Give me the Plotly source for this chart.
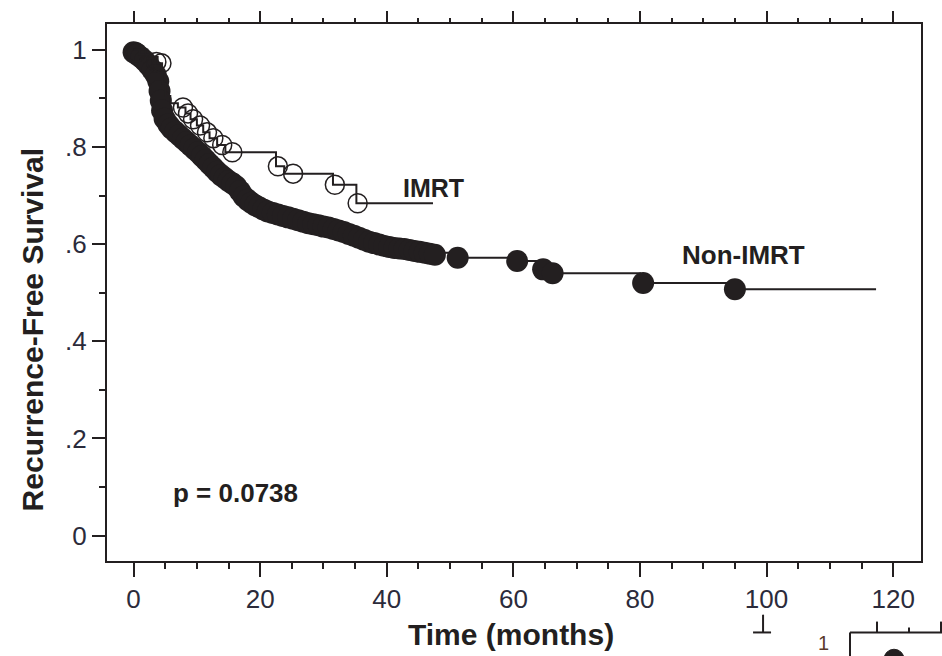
import plotly.graph_objects as go

# ---------------- data ----------------
# Non-IMRT censored marks (filled circles) – time (months), survival
non_cens_t = [0, 0.6, 1.2, 1.8, 2.4, 3.0, 3.5, 3.9, 4.1, 4.3, 4.5, 4.9, 5.5, 6.0, 6.6, 7.2,
              7.8, 8.4, 9.0, 9.6, 10.2, 10.8, 11.4, 12.0, 12.6, 13.2, 13.8, 14.4, 15.0,
              15.6, 16.2, 16.8, 17.4, 18.0, 18.6, 19.2, 19.8, 20.5, 21.2, 22.0, 22.8,
              23.6, 24.4, 25.2, 26.0, 26.8, 27.6, 28.4, 29.2, 30.0, 30.8, 31.6, 32.4,
              33.2, 34.0, 34.8, 35.6, 36.4, 37.2, 38.0, 38.8, 39.6, 40.4, 41.2, 42.0,
              42.8, 43.6, 44.4, 45.2, 46.0, 46.8, 47.6, 51.2, 60.6, 64.7, 66.2, 80.5, 95.0]
non_cens_s = [0.995, 0.99, 0.984, 0.977, 0.968, 0.958, 0.948, 0.935, 0.915, 0.895, 0.875,
              0.858, 0.846, 0.838, 0.831, 0.824, 0.817, 0.81, 0.803, 0.796, 0.789, 0.781,
              0.773, 0.765, 0.757, 0.749, 0.742, 0.736, 0.730, 0.725, 0.719, 0.709, 0.698,
              0.691, 0.685, 0.680, 0.676, 0.671, 0.667, 0.664, 0.661, 0.658, 0.655, 0.652,
              0.649, 0.646, 0.643, 0.641, 0.639, 0.636, 0.634, 0.631, 0.628, 0.625, 0.621,
              0.617, 0.613, 0.609, 0.605, 0.602, 0.599, 0.596, 0.594, 0.592, 0.591, 0.590,
              0.588, 0.586, 0.584, 0.582, 0.580, 0.578, 0.572, 0.565, 0.548, 0.540, 0.520,
              0.507]

# Non-IMRT Kaplan-Meier steps (time of step, survival after it)
non_t = [0, 1.0, 2.0, 3.0, 3.6, 4.0, 4.3, 4.6, 5.5, 7.0, 9.0, 11.0, 13.0, 15.0, 16.5,
         17.5, 19.0, 21.0, 23.0, 25.0, 28.0, 31.0, 34.0, 36.0, 38.0, 40.0, 43.0, 46.0,
         50.0, 60.0, 64.0, 65.5, 80.0, 95.0, 117.3]
non_s = [0.995, 0.986, 0.972, 0.955, 0.94, 0.92, 0.895, 0.868, 0.846, 0.826, 0.803,
         0.777, 0.752, 0.730, 0.716, 0.700, 0.682, 0.668, 0.660, 0.652, 0.642, 0.632,
         0.621, 0.611, 0.602, 0.594, 0.589, 0.582, 0.572, 0.565, 0.548, 0.540, 0.520,
         0.507, 0.507]

# IMRT Kaplan-Meier steps
imrt_t = [0, 1.0, 2.5, 3.8, 4.5, 5.0, 5.8, 7.0, 8.2, 9.0, 10.0, 11.0, 12.0, 13.2,
          14.5, 22.5, 23.8, 31.5, 35.2, 47.3]
imrt_s = [1.0, 0.99, 0.985, 0.972, 0.93, 0.905, 0.89, 0.881, 0.869, 0.857, 0.844,
          0.830, 0.818, 0.804, 0.789, 0.760, 0.745, 0.722, 0.684, 0.684]
# IMRT censored marks (open circles)
imrt_cens_t = [0.4, 3.6, 4.4, 7.8, 8.6, 9.4, 10.5, 11.6, 12.6, 14.0, 15.6, 22.8, 25.2,
               31.8, 35.4]
imrt_cens_s = [0.995, 0.975, 0.972, 0.881, 0.869, 0.857, 0.844, 0.830, 0.818, 0.804,
               0.789, 0.760, 0.745, 0.722, 0.684]

x_ticks = [0, 20, 40, 60, 80, 100, 120]
y_ticks = [0, 0.2, 0.4, 0.6, 0.8, 1.0]
y_tick_text = ["0", ".2", ".4", ".6", ".8", "1"]

# ---------------- layout geometry ----------------
FW, FH = 942, 656
L, T, R_px, B_px = 106.7, 17.3, 921.0, 560.7
W, H = R_px - L, B_px - T

def xp(px):
    return (px - L) / W

def yp(py):
    return (B_px - py) / H

INK = "#231f20"
FONT = "Liberation Sans, Arial, sans-serif"
TICKC = "#2b2b3b"

fig = go.Figure()

fig.add_trace(go.Scatter(x=non_t, y=non_s, mode="lines", line=dict(shape="hv", color=INK, width=2),
                         showlegend=False, hoverinfo="skip"))
fig.add_trace(go.Scatter(x=non_cens_t, y=non_cens_s, mode="markers",
                         marker=dict(symbol="circle", size=22, color=INK, line=dict(width=0)),
                         showlegend=False, hoverinfo="skip"))
fig.add_trace(go.Scatter(x=imrt_t, y=imrt_s, mode="lines", line=dict(shape="hv", color=INK, width=2),
                         showlegend=False, hoverinfo="skip"))
fig.add_trace(go.Scatter(x=imrt_cens_t, y=imrt_cens_s, mode="markers",
                         marker=dict(symbol="circle-open", size=19, color=INK, line=dict(width=1.5)),
                         showlegend=False, hoverinfo="skip"))
# dummy trace for the top tick axis
fig.add_trace(go.Scatter(x=[None], y=[None], xaxis="x2", showlegend=False, hoverinfo="skip"))

xrange = [-4.2, 124.4]
yrange = [-0.0523, 1.053]

fig.update_layout(
    width=FW, height=FH,
    margin=dict(l=L, r=FW - R_px, t=T, b=FH - B_px, pad=0),
    paper_bgcolor="white", plot_bgcolor="white",
    font=dict(family=FONT, color=INK),
    xaxis=dict(range=xrange, tickvals=x_ticks, ticks="outside", ticklen=14, tickwidth=2,
               tickcolor=INK, showline=True, linewidth=2, linecolor=INK, mirror=True,
               showgrid=False, zeroline=False, tickfont=dict(size=26, color=TICKC),
               minor=dict(dtick=5, tick0=0, ticks="outside", ticklen=6, tickwidth=2, tickcolor=INK,
                          showgrid=False)),
    xaxis2=dict(range=xrange, overlaying="x", side="top", tickvals=x_ticks, ticks="outside",
                ticklen=12, tickwidth=2, tickcolor=INK, showticklabels=False, showline=False,
                showgrid=False, zeroline=False,
                minor=dict(dtick=5, tick0=0, ticks="outside", ticklen=5, tickwidth=2, tickcolor=INK,
                           showgrid=False)),
    yaxis=dict(range=yrange, tickvals=y_ticks, ticktext=y_tick_text, ticks="outside", ticklen=13,
               tickwidth=2, tickcolor=INK, showline=True, linewidth=2, linecolor=INK, mirror=True,
               showgrid=False, zeroline=False, tickfont=dict(size=26, color=TICKC),
               minor=dict(tickvals=[0.1, 0.3, 0.5, 0.7, 0.9], ticks="outside", ticklen=6,
                          tickwidth=2, tickcolor=INK, showgrid=False)),
)

ann = []
ann.append(dict(text="<b>Time (months)</b>", x=xp(511), y=yp(635), xref="paper", yref="paper",
                showarrow=False, font=dict(size=30, color=INK), xanchor="center", yanchor="middle"))
ann.append(dict(text="<b>Recurrence-Free Survival</b>", x=xp(32), y=yp(326), xref="paper", yref="paper",
                showarrow=False, textangle=-90, font=dict(size=30, color=INK),
                xanchor="center", yanchor="middle"))
ann.append(dict(text="<b>IMRT</b>", x=xp(433), y=yp(183), xref="paper", yref="paper",
                showarrow=False, font=dict(size=25, color=INK), xanchor="center", yanchor="middle"))
ann.append(dict(text="<b>Non-IMRT</b>", x=xp(743), y=yp(251), xref="paper", yref="paper",
                showarrow=False, font=dict(size=26, color=INK), xanchor="center", yanchor="middle"))
ann.append(dict(text="<b>p = 0.0738</b>", x=xp(235), y=yp(492), xref="paper", yref="paper",
                showarrow=False, font=dict(size=26, color=INK), xanchor="center", yanchor="middle"))
ann.append(dict(text="1", x=xp(823), y=yp(644), xref="paper", yref="paper",
                showarrow=False, font=dict(size=20, color="#5a3a2a"), xanchor="center", yanchor="middle"))
fig.update_layout(annotations=ann)

# fragment of the neighbouring panel at the lower right of the page crop
shapes = []
def seg(x0, y0, x1, y1, w=2):
    shapes.append(dict(type="line", xref="paper", yref="paper", x0=xp(x0), y0=yp(y0),
                       x1=xp(x1), y1=yp(y1), line=dict(color=INK, width=w)))
seg(763, 615, 763, 633)
seg(753, 633, 771, 633)
seg(850, 633, 942, 633)
seg(850, 633, 850, 660)
seg(877, 622, 877, 633)
seg(909, 628, 909, 633)
seg(941, 622, 941, 633)
shapes.append(dict(type="circle", xref="paper", yref="paper", x0=xp(884), y0=yp(650),
                   x1=xp(904), y1=yp(670), fillcolor=INK, line=dict(color=INK, width=1)))
fig.update_layout(shapes=shapes)

fig.write_html("out.html", config={"displayModeBar": False},
               post_script="document.body.style.margin='0';document.body.style.padding='0';"
                           "document.body.style.overflow='hidden';")
